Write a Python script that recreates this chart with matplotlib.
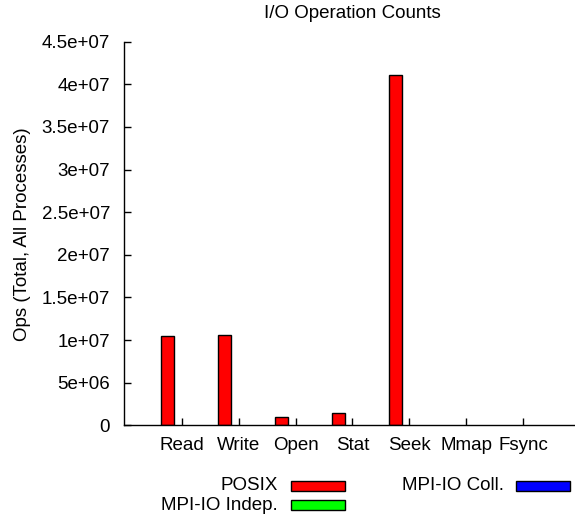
import numpy as np
import matplotlib
matplotlib.use("Agg")
import matplotlib.pyplot as plt
from matplotlib.patches import Rectangle

plt.rcParams['font.family'] = ['Liberation Sans', 'DejaVu Sans']

# ── data ──────────────────────────────────────────────────────
categories  = ['Read', 'Write', 'Open', 'Stat', 'Seek', 'Mmap', 'Fsync']
posix       = [1.048e7, 1.06e7, 9.4e5, 1.44e6, 4.115e7, 0, 0]
mpiio_indep = [0, 0, 0, 0, 0, 0, 0]
mpiio_coll  = [0, 0, 0, 0, 0, 0, 0]
y_ticks     = [0, 5e6, 1e7, 1.5e7, 2e7, 2.5e7, 3e7, 3.5e7, 4e7, 4.5e7]
y_ticklabels = ['0', '5e+06', '1e+07', '1.5e+07', '2e+07', '2.5e+07',
                '3e+07', '3.5e+07', '4e+07', '4.5e+07']

series = [('POSIX', posix, '#ff0000'),
          ('MPI-IO Indep.', mpiio_indep, '#00ff00'),
          ('MPI-IO Coll.', mpiio_coll, '#0000ff')]

FS = 13.5
W, H = 575, 521
fig = plt.figure(figsize=(W/100, H/100), dpi=100)
ax = fig.add_axes([124/W, 1-425.3/H, 1-124/W, (425.3-41.7)/H])

x = np.arange(len(categories))
bw = 0.23
for i, (name, vals, col) in enumerate(series):
    # zero-height boxes leave no outline on the axis
    lws = [1.0 if v > 0 else 0.0 for v in vals]
    ax.bar(x + (i-1)*0.25, vals, width=bw, color=col,
           edgecolor='black', linewidth=lws, zorder=2)

ax.set_xlim(-1.02, 6.915)
ax.set_ylim(0, 4.5e7)
ax.set_xticks(x)
ax.set_xticklabels(categories, fontsize=FS)
ax.set_yticks(y_ticks)
ax.set_yticklabels(y_ticklabels, fontsize=FS)
ax.tick_params(axis='y', direction='in', length=5, width=1, pad=10)
ax.tick_params(axis='x', direction='in', length=5, width=1, pad=8.5)
ax.spines['top'].set_visible(False)
ax.spines['right'].set_visible(False)
for s in ('left', 'bottom'):
    ax.spines[s].set_linewidth(1.0)
    ax.spines[s].set_zorder(3)

fig.text(352/W, 1-13/H, 'I/O Operation Counts', ha='center', va='center', fontsize=FS)
fig.text(23/W, 1-234/H, 'Ops (Total, All Processes)', rotation=90,
         ha='center', va='center', fontsize=FS)

# legend drawn by hand (gnuplot-style: label then sample box)
legend_pos = [(278, 486, 291), (278, 505, 291), (504, 486, 516)]
for (name, vals, col), (tx, ty, bx) in zip(series, legend_pos):
    fig.text(tx/W, 1-ty/H, name, ha='right', va='center', fontsize=FS)
    fig.add_artist(Rectangle((bx/W, 1-(ty+5)/H), 54/W, 10/H, facecolor=col,
                             edgecolor='black', linewidth=1.0,
                             transform=fig.transFigure))

fig.savefig('out.png', dpi=100)
